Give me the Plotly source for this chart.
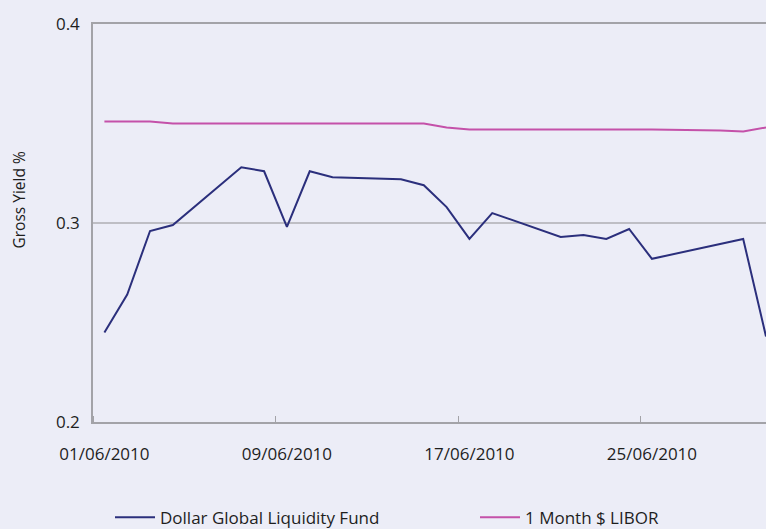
import plotly.graph_objects as go

fund_dates = ["2010-06-01", "2010-06-02", "2010-06-03", "2010-06-04", "2010-06-07",
              "2010-06-08", "2010-06-09", "2010-06-10", "2010-06-11", "2010-06-14",
              "2010-06-15", "2010-06-16", "2010-06-17", "2010-06-18", "2010-06-21",
              "2010-06-22", "2010-06-23", "2010-06-24", "2010-06-25", "2010-06-29",
              "2010-06-30"]
fund_values = [0.245, 0.264, 0.296, 0.299, 0.328, 0.326, 0.298, 0.326, 0.323, 0.322,
               0.319, 0.308, 0.292, 0.305, 0.293, 0.294, 0.292, 0.297, 0.282, 0.292,
               0.243]

libor_dates = ["2010-06-01", "2010-06-02", "2010-06-03", "2010-06-04", "2010-06-07",
               "2010-06-08", "2010-06-09", "2010-06-10", "2010-06-11", "2010-06-14",
               "2010-06-15", "2010-06-16", "2010-06-17", "2010-06-18", "2010-06-21",
               "2010-06-22", "2010-06-23", "2010-06-24", "2010-06-25", "2010-06-28",
               "2010-06-29", "2010-06-30"]
libor_values = [0.351, 0.351, 0.351, 0.350, 0.350, 0.350, 0.350, 0.350, 0.350, 0.350,
                0.350, 0.348, 0.347, 0.347, 0.347, 0.347, 0.347, 0.347, 0.347, 0.3465,
                0.346, 0.348]

y_ticks = [0.2, 0.3, 0.4]

BG = "#ecedf7"
FONT = "Open Sans"
DAY_MS = 86400000

fig = go.Figure()
fig.add_trace(go.Scatter(x=fund_dates, y=fund_values, mode="lines",
                         name="Dollar Global Liquidity Fund", legend="legend",
                         line=dict(color="#2b2f7c", width=2)))
fig.add_trace(go.Scatter(x=libor_dates, y=libor_values, mode="lines",
                         name="1 Month $ LIBOR", legend="legend2",
                         line=dict(color="#c451a9", width=2)))

leg_common = dict(orientation="h", xref="container", yref="container",
                  xanchor="left", yanchor="middle", y=0.0214, itemwidth=40,
                  bgcolor="rgba(0,0,0,0)", borderwidth=0, font=dict(size=17))

fig.update_layout(
    template="none",
    width=766, height=529,
    paper_bgcolor=BG, plot_bgcolor=BG,
    margin=dict(l=93, r=0, t=24, b=107, autoexpand=False),
    font=dict(family=FONT, size=17, color="#1e1e1e"),
    showlegend=True,
    legend=dict(x=110 / 766, **leg_common),
    legend2=dict(x=475 / 766, **leg_common),
    xaxis=dict(
        type="date", automargin=False,
        range=["2010-05-31 12:00", "2010-06-30 00:00"],
        tick0="2010-06-01", dtick=8 * DAY_MS, tickformat="%d/%m/%Y",
        ticks="", showgrid=False, zeroline=False,
        showline=True, linecolor="#a3a3a8", linewidth=1.5, mirror=True,
        ticklabelstandoff=16,
        minor=dict(tick0="2010-05-31 12:00", dtick=8 * DAY_MS, ticks="inside",
                   ticklen=6, tickcolor="#a3a3a8", tickwidth=1, showgrid=False),
    ),
    yaxis=dict(
        automargin=False,
        range=[0.2, 0.4], tickvals=y_ticks, tickformat=".1f",
        ticks="", showgrid=True, gridcolor="#bebec4", gridwidth=1.5,
        zeroline=False, showline=True, linecolor="#a3a3a8", linewidth=1.5,
        ticklabelstandoff=8,
    ),
    annotations=[dict(text="Gross Yield %", textangle=-90, xref="paper", yref="paper",
                      x=-0.110, y=0.559, xanchor="center", yanchor="middle",
                      showarrow=False, font=dict(size=15.5, family=FONT, color="#1e1e1e"))],
)

fig.write_html("out.html", config={"displayModeBar": False},
               post_script="document.body.style.margin='0';document.body.style.overflow='hidden';")
